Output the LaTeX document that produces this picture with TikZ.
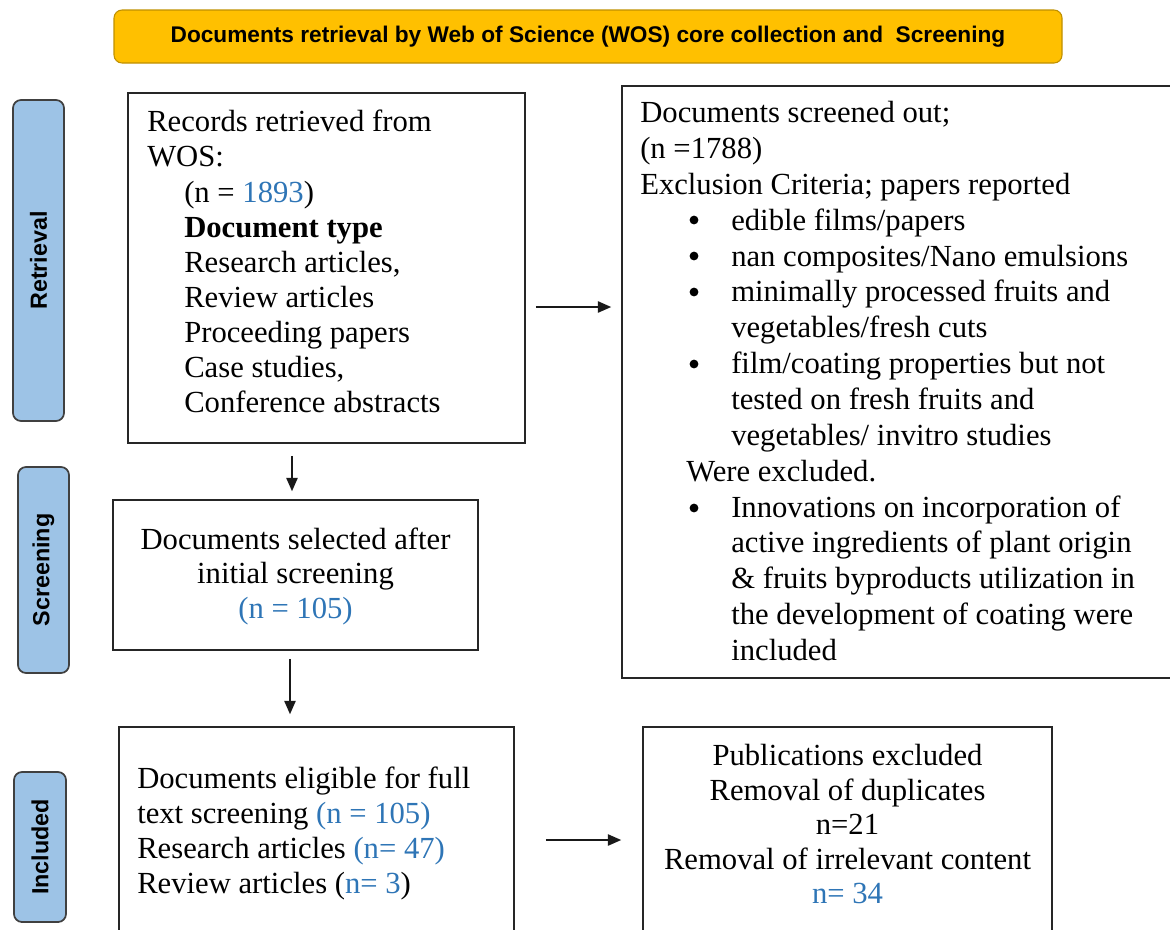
\documentclass[tikz,border=0pt]{standalone}
\usepackage{fontspec}
\setmainfont{Liberation Serif}
\setsansfont{Liberation Sans}
\usetikzlibrary{arrows.meta}
\definecolor{nblue}{HTML}{2E75B6}
\definecolor{tabfill}{HTML}{9DC3E6}
\definecolor{tabline}{HTML}{404040}
\definecolor{banfill}{HTML}{FFC000}
\definecolor{banline}{HTML}{BF9000}
\newcommand{\nb}[1]{\textcolor{nblue}{#1}}
\newcommand{\cont}{\hspace*{68.25pt}}
\begin{document}
\begin{tikzpicture}[x=0.75pt,y=-0.75pt,
  box/.style={draw=black!85, line width=1.2pt, inner sep=0pt},
  tab/.style={draw=tabline, fill=tabfill, line width=1.3pt, rounded corners=6pt,
    rotate=90, inner sep=0pt, font=\sffamily\bfseries\fontsize{17.5pt}{19pt}\selectfont},
  banner/.style={draw=banline, fill=banfill, line width=0.8pt, rounded corners=6pt,
    inner sep=0pt, font=\sffamily\bfseries\fontsize{17pt}{19pt}\selectfont},
  txt/.style={inner sep=0pt, font=\fontsize{23pt}{26.3pt}\selectfont},
  bul/.style={fill=black},
  arr/.style={-{Triangle[length=10pt,width=8.5pt]}, line width=1.1pt, draw=black!90}
]
\useasboundingbox (0,0) rectangle (1170,929);
\clip (0,0) rectangle (1170,929);

% banner
\node[banner, minimum width=711pt, minimum height=39.75pt] (ban) at (588,36.5)
  {Documents retrieval by Web of Science (WOS) core collection and\ \ Screening};

% stage tabs
\node[tab, minimum width=240.75pt, minimum height=38.25pt] (tret) at (38.5,260.5) {Retrieval};
\node[tab, minimum width=154.5pt, minimum height=38.25pt] (tscr) at (43.5,570) {Screening};
\node[tab, minimum width=112.5pt, minimum height=39pt] (tinc) at (40,847) {Included};

% boxes
\node[box, minimum width=297.75pt, minimum height=262.5pt] (b1) at (326.5,268) {};
\node[box, minimum width=426pt, minimum height=444pt] (b2) at (906,382) {};
\node[box, minimum width=273.75pt, minimum height=112.5pt] (b3) at (295.5,575) {};
\node[box, minimum width=296.25pt, minimum height=189.75pt] (b4) at (316.5,853.5) {};
\node[box, minimum width=306.75pt, minimum height=189.75pt] (b5) at (847.5,853.5) {};

% texts
\node[txt, anchor=north west, align=left] (t1) at (147,110) {%
Records retrieved from\\
WOS:\\
\hspace*{27.75pt}(n = \nb{1893})\\
\hspace*{27.75pt}\textbf{Document type}\\
\hspace*{27.75pt}Research articles,\\
\hspace*{27.75pt}Review articles\\
\hspace*{27.75pt}Proceeding papers\\
\hspace*{27.75pt}Case studies,\\
\hspace*{27.75pt}Conference abstracts};

\node[txt, anchor=north west, align=left, font=\fontsize{23pt}{26.9pt}\selectfont] (t2) at (640,101) {%
Documents screened out;\\
(n =1788)\\
Exclusion Criteria; papers reported\\
\cont edible films/papers\\
\cont nan composites/Nano emulsions\\
\cont minimally processed fruits and\\
\cont vegetables/fresh cuts\\
\cont film/coating properties but not\\
\cont tested on fresh fruits and\\
\cont vegetables/ invitro studies\\
\hspace*{34.5pt}Were excluded.\\
\cont Innovations on incorporation of\\
\cont active ingredients of plant origin\\
\cont \& fruits byproducts utilization in\\
\cont the development of coating were\\
\cont included};

% bullets of the list
\fill[bul] (694,220) circle (3.3pt);
\fill[bul] (694,256) circle (3.3pt);
\fill[bul] (694,292) circle (3.3pt);
\fill[bul] (694,364) circle (3.3pt);
\fill[bul] (694,508) circle (3.3pt);

\node[txt, align=center, font=\fontsize{23pt}{25.9pt}\selectfont] (t3) at (295.5,576) {%
Documents selected after\\
initial screening\\
\nb{(n = 105)}};

\node[txt, anchor=north west, align=left, font=\fontsize{23pt}{26.25pt}\selectfont] (t4) at (137,767) {%
Documents eligible for full\\
text screening \nb{(n = 105)}\\
Research articles \nb{(n= 47)}\\
Review articles (\nb{n= 3})};

\node[txt, anchor=north, align=center, font=\fontsize{23pt}{25.9pt}\selectfont] (t5) at (847.5,744) {%
Publications excluded\\
Removal of duplicates\\
n=21\\
Removal of irrelevant content\\
\nb{n= 34}};

% connectors
\coordinate (r1) at (0,307);
\coordinate (r2) at (0,840);
\coordinate (d1) at (292,0);
\coordinate (d2) at (290,0);
\draw[arr, shorten <=7.5pt, shorten >=7.5pt] (r1 -| b1.east) -- (r1 -| b2.west);
\draw[arr, shorten <=9pt, shorten >=6pt] (d1 |- b1.south) -- (d1 |- b3.north);
\draw[arr, shorten <=6pt, shorten >=9pt] (d2 |- b3.south) -- (d2 |- b4.north);
\draw[arr, shorten <=23.25pt, shorten >=15.75pt] (r2 -| b4.east) -- (r2 -| b5.west);
\end{tikzpicture}
\end{document}
